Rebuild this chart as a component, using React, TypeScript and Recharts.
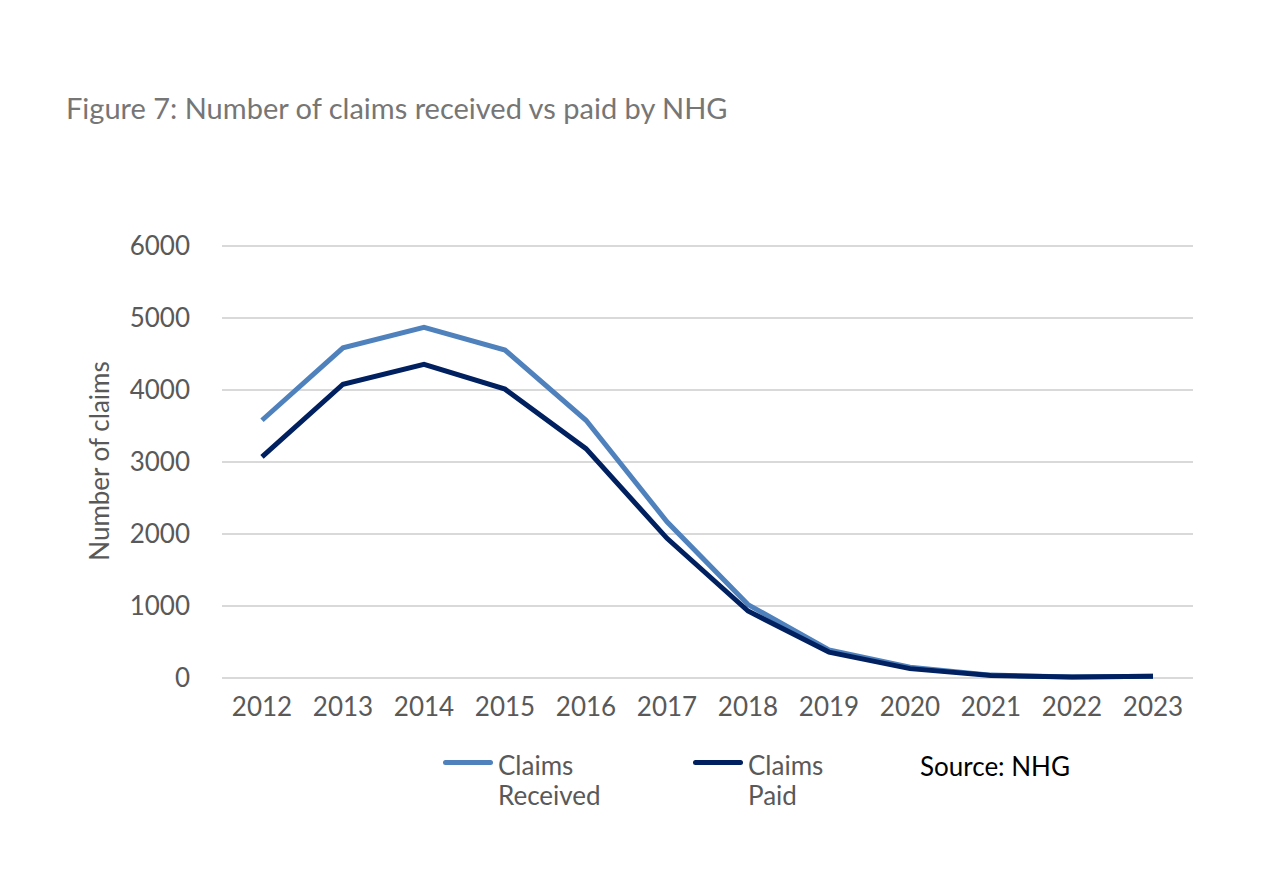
import { LineChart, Line, XAxis, YAxis, CartesianGrid } from 'recharts';

const years = ['2012', '2013', '2014', '2015', '2016', '2017', '2018', '2019', '2020', '2021', '2022', '2023'];
const claimsReceived = [3580, 4585, 4870, 4555, 3580, 2170, 1020, 390, 150, 40, 15, 25];
const claimsPaid = [3070, 4080, 4355, 4012, 3185, 1940, 930, 360, 130, 35, 15, 25];
const yTicks = [0, 1000, 2000, 3000, 4000, 5000, 6000];

const RECEIVED = '#4f81bd';
const PAID = '#002060';
const GREY = '#595959';
const FONT = 'Lato, "Open Sans", sans-serif';

const data = years.map((year, i) => ({
  year,
  received: claimsReceived[i],
  paid: claimsPaid[i],
}));

function LegendItem({ color, lines, left }: { color: string; lines: string[]; left: number }) {
  return (
    <div style={{ position: 'absolute', left, top: 750, display: 'flex', alignItems: 'flex-start' }}>
      <div style={{ width: 50, height: 5, background: color, borderRadius: 3, marginTop: 10 }} />
      <div style={{ marginLeft: 5, color: GREY, fontSize: 26, lineHeight: '30px' }}>
        {lines.map((l) => (
          <div key={l}>{l}</div>
        ))}
      </div>
    </div>
  );
}

export default function App() {
  return (
    <div
      style={{
        position: 'absolute',
        left: 0,
        top: 0,
        width: 1280,
        height: 886,
        background: '#fff',
        fontFamily: FONT,
      }}
    >
      <div style={{ position: 'absolute', left: 66, top: 90, fontSize: 29, color: '#767676' }}>
        Figure 7: Number of claims received vs paid by NHG
      </div>
      <div
        style={{
          position: 'absolute',
          left: 99,
          top: 461,
          fontSize: 26,
          color: GREY,
          whiteSpace: 'nowrap',
          transform: 'translate(-50%, -50%) rotate(-90deg)',
        }}
      >
        Number of claims
      </div>
      <LineChart
        width={1280}
        height={886}
        data={data}
        margin={{ top: 246, right: 87, bottom: 178, left: 122 }}
      >
        <CartesianGrid vertical={false} stroke="#d9d9d9" strokeWidth={2} />
        <XAxis
          dataKey="year"
          height={30}
          axisLine={false}
          tickLine={false}
          tickSize={0}
          tickMargin={20}
          padding={{ left: 40, right: 40 }}
          interval={0}
          tick={{ fill: GREY, fontSize: 26, fontFamily: FONT }}
        />
        <YAxis
          width={100}
          domain={[0, 6000]}
          ticks={yTicks}
          axisLine={false}
          tickLine={false}
          tickSize={0}
          tickMargin={32}
          tick={{ fill: GREY, fontSize: 26, fontFamily: FONT }}
        />
        <Line
          type="linear"
          dataKey="received"
          stroke={RECEIVED}
          strokeWidth={5}
          dot={false}
          isAnimationActive={false}
        />
        <Line
          type="linear"
          dataKey="paid"
          stroke={PAID}
          strokeWidth={5}
          dot={false}
          isAnimationActive={false}
        />
      </LineChart>
      <LegendItem color={RECEIVED} lines={['Claims', 'Received']} left={443} />
      <LegendItem color={PAID} lines={['Claims', 'Paid']} left={693} />
      <div style={{ position: 'absolute', left: 920, top: 750, fontSize: 26, color: '#000' }}>
        Source: NHG
      </div>
    </div>
  );
}
